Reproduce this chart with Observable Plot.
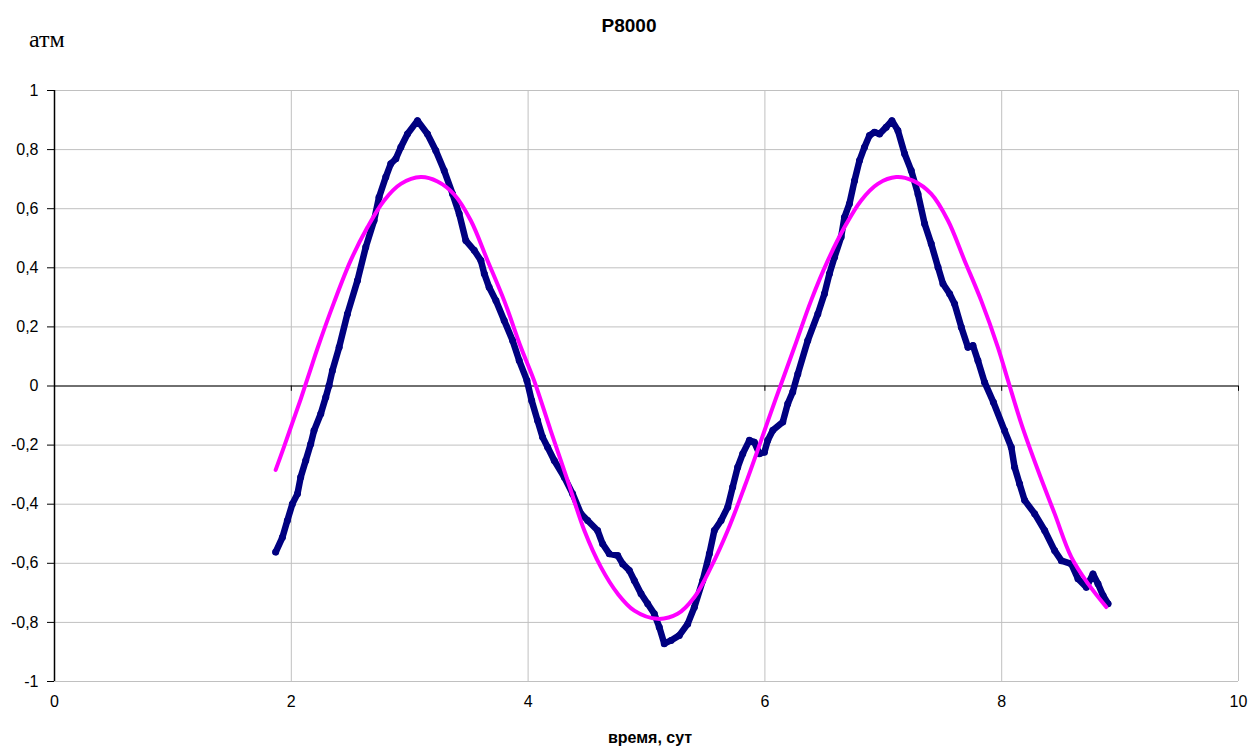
<!DOCTYPE html>
<html>
<head>
<meta charset="utf-8">
<script src="https://cdn.jsdelivr.net/npm/d3@7"></script>
<script src="https://cdn.jsdelivr.net/npm/@observablehq/plot@0.6"></script>
<style>
  html, body { margin: 0; padding: 0; background: #fff; }
  #chart { width: 1251px; height: 749px; }
</style>
</head>
<body>
<div id="chart"></div>
<script>
const titleText = "P8000";
const xLabel = "время, сут";
const yLabel = "атм";
const xTicks = [0, 2, 4, 6, 8, 10];
const yTicks = [-1, -0.8, -0.6, -0.4, -0.2, 0, 0.2, 0.4, 0.6, 0.8, 1];

// measured series (navy)
const measX = [1.868,1.925,1.967,2.009,2.052,2.079,2.122,2.164,2.192,2.249,2.291,2.319,2.347,2.404,2.474,2.559,2.629,2.699,2.741,2.798,2.840,2.883,2.925,2.981,3.066,3.150,3.220,3.291,3.362,3.418,3.474,3.545,3.601,3.630,3.671,3.728,3.798,3.869,3.925,3.990,4.030,4.080,4.122,4.165,4.221,4.306,4.376,4.446,4.503,4.587,4.629,4.686,4.757,4.799,4.855,4.897,4.954,5.010,5.066,5.108,5.150,5.207,5.277,5.348,5.404,5.475,5.531,5.573,5.630,5.686,5.728,5.770,5.813,5.869,5.911,5.953,5.996,6.024,6.067,6.151,6.193,6.235,6.278,6.362,6.447,6.503,6.545,6.588,6.644,6.672,6.714,6.757,6.799,6.841,6.883,6.925,6.968,7.024,7.073,7.123,7.180,7.236,7.293,7.349,7.405,7.462,7.504,7.560,7.602,7.659,7.715,7.757,7.799,7.855,7.930,8.024,8.081,8.109,8.151,8.194,8.278,8.363,8.447,8.504,8.588,8.644,8.715,8.771,8.813,8.856,8.898];
const measY = [-0.562,-0.512,-0.455,-0.399,-0.365,-0.309,-0.252,-0.196,-0.151,-0.094,-0.038,0.002,0.052,0.131,0.244,0.357,0.470,0.560,0.639,0.707,0.752,0.769,0.808,0.853,0.898,0.853,0.797,0.729,0.650,0.583,0.492,0.459,0.425,0.380,0.334,0.289,0.222,0.154,0.086,0.019,-0.049,-0.117,-0.173,-0.207,-0.252,-0.309,-0.365,-0.432,-0.455,-0.489,-0.534,-0.568,-0.574,-0.602,-0.624,-0.658,-0.703,-0.737,-0.771,-0.816,-0.872,-0.861,-0.844,-0.805,-0.749,-0.658,-0.568,-0.489,-0.455,-0.410,-0.342,-0.275,-0.229,-0.184,-0.190,-0.229,-0.224,-0.184,-0.150,-0.122,-0.060,-0.020,0.041,0.154,0.244,0.312,0.380,0.436,0.504,0.571,0.617,0.695,0.763,0.808,0.848,0.859,0.853,0.876,0.898,0.865,0.786,0.729,0.650,0.549,0.481,0.402,0.346,0.312,0.278,0.199,0.131,0.137,0.086,0.013,-0.055,-0.151,-0.207,-0.275,-0.331,-0.387,-0.432,-0.489,-0.557,-0.591,-0.602,-0.652,-0.681,-0.636,-0.669,-0.709,-0.737];

// fitted series (magenta)
const fitX = [1.868,1.939,2.009,2.079,2.122,2.164,2.220,2.361,2.502,2.643,2.784,2.925,3.094,3.235,3.376,3.516,3.657,3.798,3.939,4.050,4.190,4.334,4.475,4.615,4.757,4.897,5.094,5.263,5.404,5.545,5.686,5.827,5.968,6.090,6.249,6.390,6.532,6.672,6.813,6.954,7.109,7.250,7.405,7.546,7.686,7.827,7.968,8.053,8.166,8.307,8.447,8.588,8.729,8.883];
const fitY = [-0.284,-0.205,-0.125,-0.045,0.007,0.058,0.126,0.283,0.425,0.537,0.628,0.684,0.707,0.692,0.648,0.560,0.425,0.289,0.131,0.019,-0.150,-0.320,-0.489,-0.613,-0.703,-0.760,-0.788,-0.771,-0.715,-0.613,-0.489,-0.342,-0.184,-0.045,0.131,0.289,0.425,0.537,0.628,0.684,0.707,0.695,0.650,0.560,0.425,0.289,0.131,0.019,-0.128,-0.286,-0.432,-0.579,-0.669,-0.748];

const meas = measX.map((x, i) => ({x, y: measY[i]}));
const fit = fitX.map((x, i) => ({x, y: fitY[i]}));
const fmt = d => String(Math.round(d * 10) / 10).replace(".", ",");

const font = "'Liberation Sans', Arial, sans-serif";

const chart = Plot.plot({
  width: 1251,
  height: 749,
  marginLeft: 54,
  marginRight: 13,
  marginTop: 90,
  marginBottom: 68,
  style: {fontFamily: font, fontSize: "16px", color: "#000", background: "#fff"},
  x: {domain: [0, 10]},
  y: {domain: [-1, 1]},
  marks: [
    Plot.gridY(yTicks, {stroke: "#c0c0c0", strokeOpacity: 1, strokeWidth: 1}),
    Plot.gridX(xTicks.slice(1), {stroke: "#c0c0c0", strokeOpacity: 1, strokeWidth: 1}),
    Plot.ruleY([0], {stroke: "#000", strokeWidth: 1}),
    Plot.ruleX(xTicks.slice(1), {x: d => d, y1: 0, y2: -0.018, stroke: "#000", strokeWidth: 1}),
    Plot.ruleX([0], {stroke: "#000", strokeWidth: 1.5}),
    Plot.axisY(yTicks, {tickSize: 7, tickPadding: 9, tickFormat: fmt, label: null, stroke: "#000", fontSize: 16}),
    Plot.axisX(xTicks, {anchor: "bottom", tickSize: 0, tickPadding: 14, tickFormat: d => String(d), label: null, fontSize: 16}),
    Plot.line(meas, {x: "x", y: "y", stroke: "#000080", strokeWidth: 6.5, strokeLinejoin: "round", strokeLinecap: "round"}),
    Plot.dot(meas, {x: "x", y: "y", r: 3.5, fill: "#000080", stroke: "none"}),
    Plot.line(fit, {x: "x", y: "y", stroke: "#ff00ff", strokeWidth: 4, curve: "catmull-rom", strokeLinecap: "round"})
  ]
});

const svg = d3.select(chart);
svg.append("text")
  .attr("x", 629).attr("y", 32)
  .attr("text-anchor", "middle")
  .attr("font-family", font).attr("font-weight", "bold").attr("font-size", 19)
  .attr("fill", "#000")
  .text(titleText);
svg.append("text")
  .attr("x", 29).attr("y", 47)
  .attr("text-anchor", "start")
  .attr("font-family", "'Liberation Serif', 'Times New Roman', serif").attr("font-size", 24)
  .attr("fill", "#000")
  .text(yLabel);
svg.append("text")
  .attr("x", 650).attr("y", 743)
  .attr("text-anchor", "middle")
  .attr("font-family", font).attr("font-weight", "bold").attr("font-size", 16)
  .attr("fill", "#000")
  .text(xLabel);

document.getElementById("chart").appendChild(chart);
</script>
</body>
</html>
